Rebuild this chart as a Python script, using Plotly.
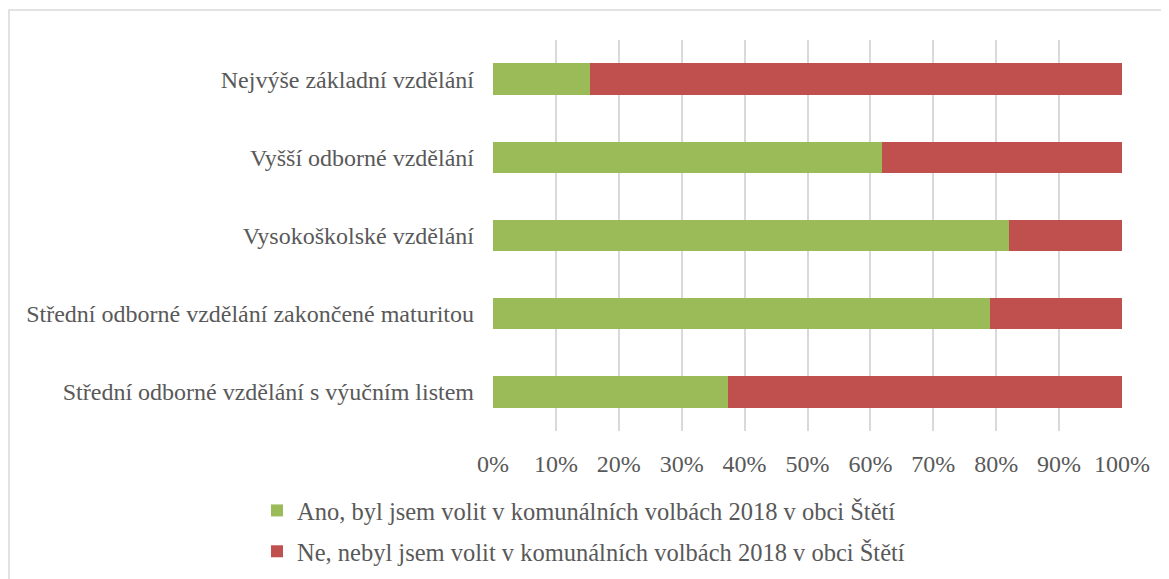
import plotly.graph_objects as go

categories = [
    "Střední odborné vzdělání s výučním listem",
    "Střední odborné vzdělání zakončené maturitou",
    "Vysokoškolské vzdělání",
    "Vyšší odborné vzdělání",
    "Nejvýše základní vzdělání",
]
ano_values = [37.3, 79.0, 82.0, 61.9, 15.4]
ne_values = [62.7, 21.0, 18.0, 38.1, 84.6]
ano_name = "Ano, byl jsem volit v komunálních volbách 2018 v obci Štětí"
ne_name = "Ne, nebyl jsem volit v komunálních volbách 2018 v obci Štětí"
x_ticks = list(range(0, 101, 10))
x_tick_labels = [f"{t}%" for t in x_ticks]

font_family = "Liberation Serif"
text_color = "#595959"
grid_color = "#d9d9d9"

fig = go.Figure()
fig.add_trace(go.Bar(
    y=categories, x=ano_values, name=ano_name, orientation="h",
    marker=dict(color="#9BBB59", line=dict(width=0)),
    legendgroup="a",
))
fig.add_trace(go.Bar(
    y=categories, x=ne_values, name=ne_name, orientation="h",
    marker=dict(color="#C0504D", line=dict(width=0)),
    legendgroup="b",
))

W, H = 1169, 579
L, R, T, B = 485, 55, 32, 156
PW, PH = W - L - R, H - T - B
fig.update_layout(
    width=W, height=H,
    barmode="stack",
    bargap=0.6,
    plot_bgcolor="white",
    paper_bgcolor="white",
    font=dict(family=font_family, size=24, color=text_color),
    margin=dict(l=L, r=R, t=T, b=B, autoexpand=False),
    xaxis=dict(
        range=[0, 100],
        tickvals=x_ticks,
        ticktext=x_tick_labels,
        showgrid=True,
        gridcolor=grid_color,
        gridwidth=1.5,
        zeroline=False,
        showline=False,
        ticks="",
        ticklabelstandoff=16,
        fixedrange=True,
    ),
    yaxis=dict(
        type="category",
        categoryorder="array",
        categoryarray=categories,
        showgrid=False,
        showline=False,
        ticks="",
        ticklabelstandoff=18,
        fixedrange=True,
    ),
    legend=dict(
        orientation="v",
        xref="container", yref="container",
        x=249 / W, y=1 - 480 / H,
        xanchor="left", yanchor="top",
        traceorder="grouped",
        tracegroupgap=6,
        font=dict(family=font_family, size=24.5, color=text_color),
        itemwidth=30,
        bgcolor="rgba(0,0,0,0)",
    ),
    shapes=[
        dict(
            type="rect", xref="paper", yref="paper",
            x0=(1 - L) / PW, x1=1.3,
            y0=-0.6, y1=(PH + T - 2) / PH,
            line=dict(color=grid_color, width=1.5),
            fillcolor="rgba(0,0,0,0)",
            layer="below",
        )
    ],
)

fig.write_html("out.html")
